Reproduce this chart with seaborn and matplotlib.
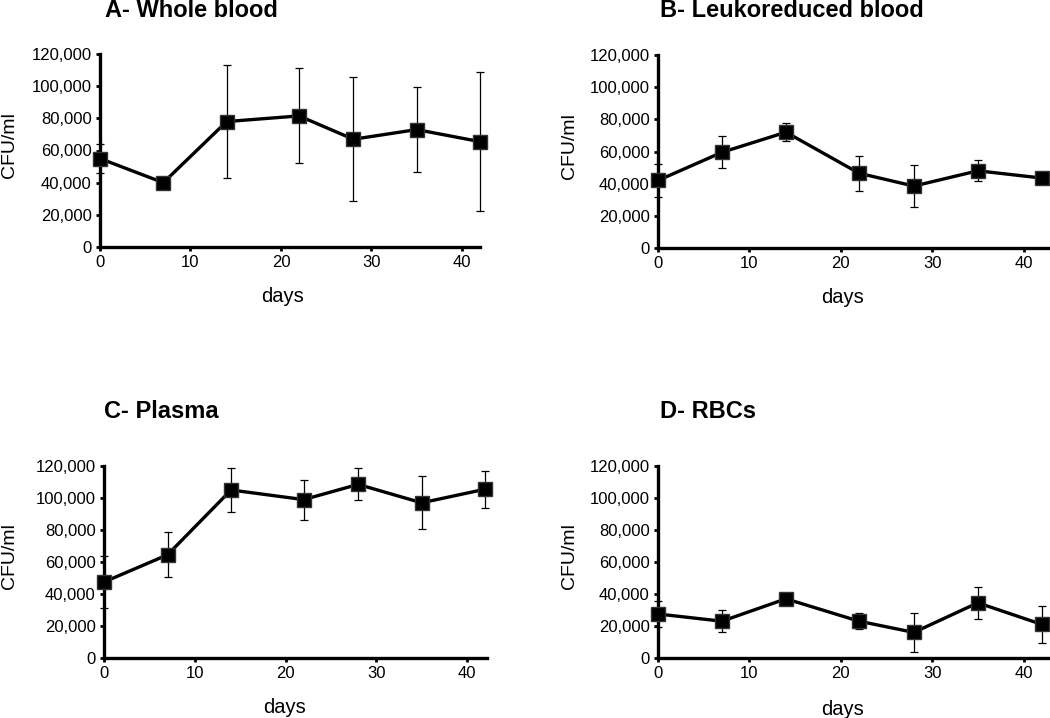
import pandas as pd
import seaborn as sns
import matplotlib.pyplot as plt
from matplotlib.ticker import FuncFormatter

days = [0, 7, 14, 22, 28, 35, 42]

whole_mean = [55000, 40000, 78000, 81500, 67000, 73000, 65500]
whole_err = [9000, 2000, 35000, 29500, 38500, 26500, 43000]

leuko_mean = [42000, 59500, 72000, 46500, 38500, 48000, 43500]
leuko_err = [10000, 10000, 5500, 11000, 13000, 6500, 1500]

plasma_mean = [47500, 64500, 105000, 99000, 108500, 97000, 105500]
plasma_err = [16500, 14000, 13500, 12500, 10000, 16500, 11500]

rbc_mean = [27500, 23000, 37000, 23000, 16000, 34500, 21000]
rbc_err = [8000, 7000, 2000, 5000, 12000, 10000, 11500]

titles = ["A- Whole blood", "B- Leukoreduced blood", "C- Plasma", "D- RBCs"]

W, H = 1050, 718

# panel boxes in pixels: left, top, right, bottom, xmax
boxes = [
    (100, 54, 480, 247, 42.0),
    (658, 55, 1050, 248, 42.9),
    (104, 466, 487, 658, 42.2),
    (658, 466, 1050, 658, 42.9),
]
title_pos = [(105, 17), (660, 17), (104, 418), (660, 418)]
ylabel_x = [18, 578, 18, 578]
xlabel_pos = [(282, 287), (842, 288), (285, 698), (842, 700)]

sns.set_style("ticks")
plt.rcParams["font.family"] = ["Liberation Sans", "DejaVu Sans"]
plt.rcParams["text.color"] = "black"
plt.rcParams["axes.labelcolor"] = "black"

fig = plt.figure(figsize=(W / 100, H / 100), dpi=100)

series = [(whole_mean, whole_err), (leuko_mean, leuko_err),
          (plasma_mean, plasma_err), (rbc_mean, rbc_err)]

for i, (mean, err) in enumerate(series):
    l, t, r, b, xmax = boxes[i]
    ax = fig.add_axes([l / W, 1 - b / H, (r - l) / W, (b - t) / H])
    df = pd.DataFrame({"days": days, "cfu": mean})

    ax.errorbar(days, mean, yerr=err, fmt="none", ecolor="black",
                elinewidth=0.9, capsize=3, capthick=0.9, zorder=2, clip_on=False)
    sns.lineplot(x="days", y="cfu", data=df, ax=ax, color="black", linewidth=2.4,
                 marker="s", markersize=9.5, markeredgecolor="#333333",
                 markeredgewidth=1, clip_on=False, zorder=3)

    ax.set_xlim(0, xmax)
    ax.set_ylim(0, 120000)
    ax.set_xticks([0, 10, 20, 30, 40])
    ax.set_yticks(range(0, 120001, 20000))
    ax.yaxis.set_major_formatter(FuncFormatter(lambda v, p: f"{int(v):,}"))
    ax.tick_params(labelsize=12, width=2, length=3, colors="black", pad=3)

    for side in ["top", "right"]:
        ax.spines[side].set_visible(False)
    for side in ["left", "bottom"]:
        ax.spines[side].set_linewidth(2.4)
        ax.spines[side].set_color("black")

    ax.set_ylabel("CFU/ml", fontsize=14)
    ax.set_xlabel("days", fontsize=14.5)
    ax.yaxis.set_label_coords((ylabel_x[i] - l) / (r - l), 0.53)
    xl, yl = xlabel_pos[i]
    ax.xaxis.set_label_coords((xl - l) / (r - l), -(yl - b) / (b - t))

    tx, ty = title_pos[i]
    fig.text(tx / W, 1 - ty / H, titles[i], fontsize=17, fontweight="bold",
             ha="left", va="baseline", color="black")

fig.savefig("out.png", dpi=100)
